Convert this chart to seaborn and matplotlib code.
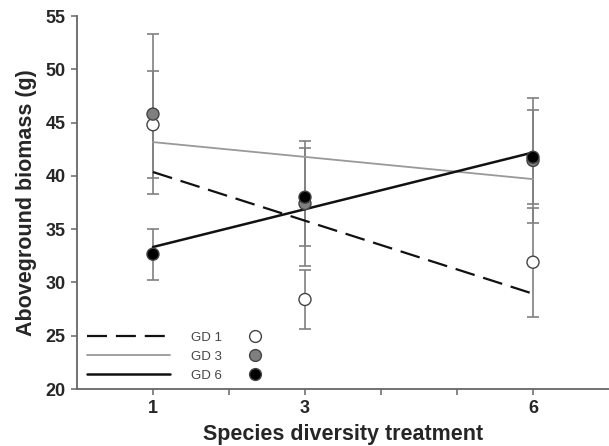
import matplotlib
matplotlib.use("Agg")
import matplotlib.pyplot as plt
from matplotlib.lines import Line2D
import seaborn as sns
import pandas as pd

# ---- data ----
treatments = [1, 3, 6]
groups = ["GD 1", "GD 3", "GD 6"]
gd1_mean = [44.8, 28.4, 31.9]
gd1_err = [5.0, 2.8, 5.1]
gd3_mean = [45.8, 37.4, 41.45]
gd3_err = [7.5, 5.9, 5.85]
gd6_mean = [32.65, 38.0, 41.75]
gd6_err = [2.4, 4.6, 4.4]
x_ticks = [1, 2, 3, 4, 5, 6]
x_tick_labels = ["1", "", "3", "", "", "6"]
y_ticks = [20, 25, 30, 35, 40, 45, 50, 55]

means = {"GD 1": gd1_mean, "GD 3": gd3_mean, "GD 6": gd6_mean}
errs = {"GD 1": gd1_err, "GD 3": gd3_err, "GD 6": gd6_err}

rows = []
for g in groups:
    for t, m, e in zip(treatments, means[g], errs[g]):
        rows.append({"group": g, "treatment": t, "biomass": m, "err": e})
df = pd.DataFrame(rows)

sns.set_style("ticks")
plt.rcParams["font.family"] = ["Liberation Sans", "DejaVu Sans"]

fig = plt.figure(figsize=(6.09, 4.46), dpi=100)
ax = fig.add_axes([0.1264, 0.1278, 0.8736, 0.8362])

face = {"GD 1": "white", "GD 3": "#7f7f7f", "GD 6": "black"}
line_style = {
    "GD 1": dict(color="#111111", lw=1.6, dashes=(9, 4)),
    "GD 3": dict(color="#999999", lw=1.3, linestyle="-"),
    "GD 6": dict(color="#111111", lw=1.8, linestyle="-"),
}

# error bars
for g in groups:
    sub = df[df.group == g]
    ax.errorbar(sub.treatment, sub.biomass, yerr=sub.err, fmt="none",
                ecolor="#808080", elinewidth=1.2, capsize=4, capthick=1.2, zorder=2)

# regression lines through the means
for g in groups:
    sub = df[df.group == g]
    sns.regplot(data=sub, x="treatment", y="biomass", scatter=False, ci=None,
                truncate=True, ax=ax, line_kws=line_style[g])

# points
sns.scatterplot(data=df, x="treatment", y="biomass", hue="group", palette=face,
                edgecolor="#444444", linewidth=1.0, s=75, ax=ax, legend=False, zorder=4)

ax.set_xlim(0, 7)
ax.set_ylim(20, 55)
ax.set_xticks(x_ticks)
ax.set_xticklabels(x_tick_labels)
ax.set_yticks(y_ticks)
for lab in ax.get_xticklabels() + ax.get_yticklabels():
    lab.set_fontweight("bold")
    lab.set_fontsize(13)
ax.tick_params(axis="both", direction="out", length=4, width=1.1, color="#666666", pad=4)
for side in ["top", "right"]:
    ax.spines[side].set_visible(False)
for side in ["left", "bottom"]:
    ax.spines[side].set_color("#666666")
    ax.spines[side].set_linewidth(1.3)

ax.set_xlabel("Species diversity treatment", fontsize=15.5, fontweight="bold", labelpad=5)
ax.set_ylabel("Aboveground biomass (g)", fontsize=15.5, fontweight="bold", labelpad=6)

# legend: lines + labels
line_handles = [Line2D([], [], **line_style[g]) for g in groups]
leg1 = ax.legend(line_handles, groups, loc="lower left", bbox_to_anchor=(0.018, 0.02),
                 frameon=False, fontsize=9.5, handlelength=6.3, handletextpad=1.6,
                 labelspacing=0.5, borderpad=0, borderaxespad=0, labelcolor="#444444")
ax.add_artist(leg1)
marker_handles = [Line2D([], [], linestyle="none", marker="o", markersize=8.5,
                         markerfacecolor=face[g], markeredgecolor="#444444",
                         markeredgewidth=1.0) for g in groups]
ax.legend(marker_handles, ["", "", ""], loc="lower left", bbox_to_anchor=(0.322, 0.02),
          frameon=False, fontsize=9.5, handlelength=1.0, handletextpad=0,
          labelspacing=0.5, borderpad=0, borderaxespad=0)

fig.savefig("out.png", dpi=100)
